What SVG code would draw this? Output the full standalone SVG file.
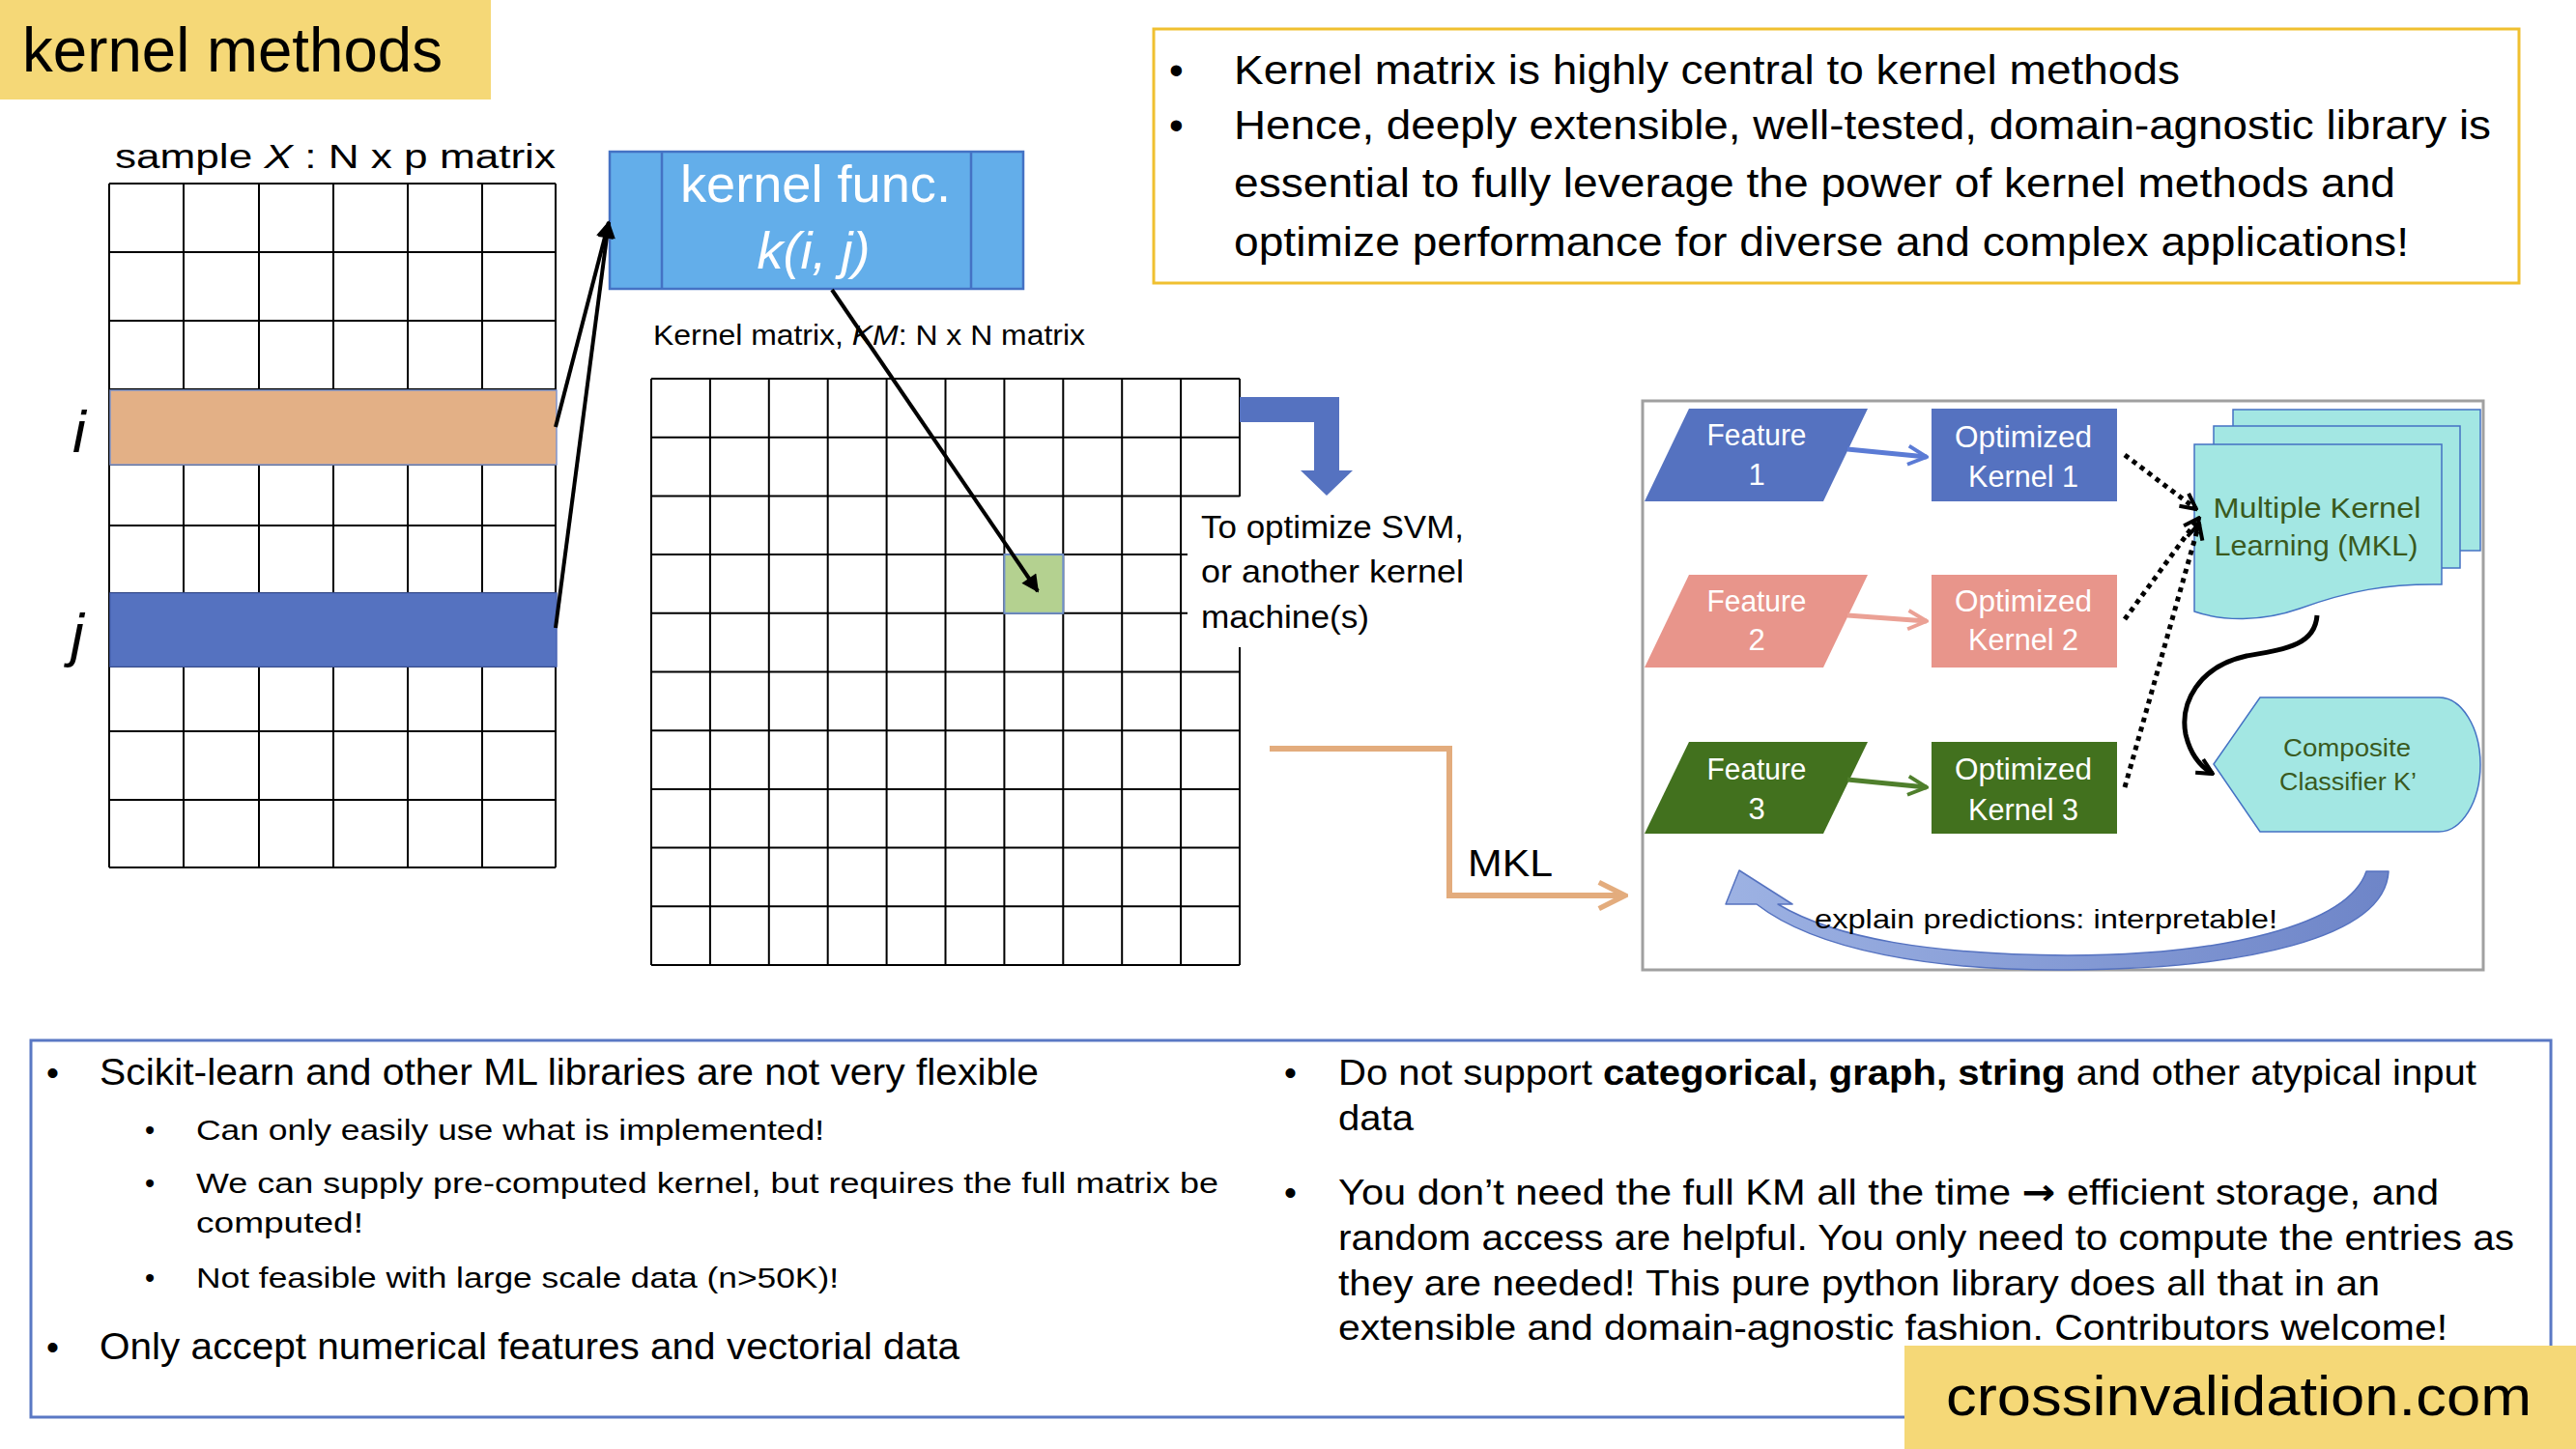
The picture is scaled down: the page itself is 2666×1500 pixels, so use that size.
<svg xmlns="http://www.w3.org/2000/svg" width="2666" height="1500" viewBox="0 0 2666 1500">
<defs>
<style>
text{font-family:"Liberation Sans",Arial,sans-serif;fill:#000}
.grid{stroke:#000;stroke-width:2;fill:none}
.w{fill:#fff}
.ctr{text-anchor:middle}
.cy{fill:#3A5A1E}
.it{font-style:italic}
</style>
<marker id="tri" viewBox="0 0 10 10" refX="9" refY="5" markerUnits="userSpaceOnUse" markerWidth="24" markerHeight="18" orient="auto"><path d="M0,0 L10,5 L0,10 Z" fill="#000"/></marker>
<marker id="chBlack" viewBox="0 0 10 10" refX="9" refY="5" markerUnits="userSpaceOnUse" markerWidth="20" markerHeight="22" orient="auto"><path d="M1,1 L9,5 L1,9" fill="none" stroke="#000" stroke-width="2"/></marker>
<marker id="chBlue" viewBox="0 0 10 10" refX="9" refY="5" markerUnits="userSpaceOnUse" markerWidth="24" markerHeight="26" orient="auto"><path d="M1,1 L9,5 L1,9" fill="none" stroke="#5B7BD5" stroke-width="1.6"/></marker>
<marker id="chRed" viewBox="0 0 10 10" refX="9" refY="5" markerUnits="userSpaceOnUse" markerWidth="24" markerHeight="26" orient="auto"><path d="M1,1 L9,5 L1,9" fill="none" stroke="#EBA195" stroke-width="1.6"/></marker>
<marker id="chGreen" viewBox="0 0 10 10" refX="9" refY="5" markerUnits="userSpaceOnUse" markerWidth="24" markerHeight="26" orient="auto"><path d="M1,1 L9,5 L1,9" fill="none" stroke="#4F7F2C" stroke-width="1.6"/></marker>
<marker id="chOrange" viewBox="0 0 10 10" refX="9" refY="5" markerUnits="userSpaceOnUse" markerWidth="34" markerHeight="38" orient="auto"><path d="M1,1 L9,5 L1,9" fill="none" stroke="#E3AC7D" stroke-width="1.6"/></marker>
<linearGradient id="arcGrad" x1="0" y1="0" x2="1" y2="0">
<stop offset="0" stop-color="#9DB2E3"/><stop offset="1" stop-color="#6E85C8"/>
</linearGradient>
</defs>
<rect x="0" y="0" width="2666" height="1500" fill="#fff"/>

<g id="title">
<rect x="0" y="0" width="508" height="103" fill="#F5D877"/>
<text x="23" y="74" font-size="64" textLength="435" lengthAdjust="spacingAndGlyphs">kernel methods</text>
</g>

<g id="matrix-x">
<text x="119" y="174" font-size="35" textLength="456" lengthAdjust="spacingAndGlyphs">sample <tspan class="it">X</tspan> : N x p matrix</text>
<path class="grid" d="M113,190V898M190,190V898M268,190V898M345,190V898M422,190V898M499,190V898M575,190V898M113,190H575M113,261H575M113,332H575M113,403H575M113,481H575M113,544H575M113,614H575M113,690H575M113,757H575M113,828H575M113,898H575"/>
<rect x="114" y="404" width="462" height="77" fill="#E3B086" stroke="#8095CC" stroke-width="1.5"/>
<rect x="114" y="614" width="462" height="76" fill="#5572C0" stroke="#4A66B5" stroke-width="1.5"/>
<text x="82" y="468" font-size="62" class="it ctr">i</text>
<text x="80" y="678" font-size="62" class="it ctr">j</text>
</g>

<g id="kernel-func">
<rect x="631" y="157" width="428" height="142" fill="#63AEEA" stroke="#4472C4" stroke-width="2.5"/>
<path d="M685,157V299M1005,157V299" stroke="#4472C4" stroke-width="2.5"/>
<text x="844" y="209" font-size="54" class="w ctr" textLength="280" lengthAdjust="spacingAndGlyphs">kernel func.</text>
<text x="842" y="278" font-size="54" class="w ctr it">k(i, j)</text>
</g>

<g id="kernel-matrix">
<text x="676" y="357" font-size="29" textLength="447" lengthAdjust="spacingAndGlyphs">Kernel matrix, <tspan class="it">KM</tspan>: N x N matrix</text>
<path class="grid" d="M674,392V999M734.9,392V999M795.8,392V999M856.7,392V999M917.6,392V999M978.5,392V999M1039.4,392V999M1100.3,392V999M1161.2,392V999M1222.1,392V999M1283,392V514M1283,670V999M674,392H1283M674,452.7H1283M674,513.4H1283M674,574.1H1229M674,634.8H1229M674,695.5H1283M674,756.2H1283M674,816.9H1283M674,877.6H1283M674,938.3H1283M674,999H1283"/>
<rect x="1039.4" y="574.1" width="60.9" height="60.7" fill="#B4D190" stroke="#6F8FC8" stroke-width="2"/>
</g>

<g id="svm-note">
<path d="M1283,411H1386V487H1400L1373,513L1346,487H1360V437H1283Z" fill="#5572C0"/>
<text x="1243" y="557" font-size="33" textLength="272" lengthAdjust="spacingAndGlyphs">To optimize SVM,</text>
<text x="1243" y="603" font-size="33" textLength="272" lengthAdjust="spacingAndGlyphs">or another kernel</text>
<text x="1243" y="650" font-size="33" textLength="174" lengthAdjust="spacingAndGlyphs">machine(s)</text>
</g>

<g id="mkl-label">
<text x="1519" y="907" font-size="39" textLength="88" lengthAdjust="spacingAndGlyphs">MKL</text>
</g>

<g id="note-top">
<rect x="1194" y="30" width="1413" height="263" fill="none" stroke="#F0C030" stroke-width="3"/>
<text x="1210" y="87" font-size="42">•</text>
<text x="1277" y="87" font-size="43" textLength="979" lengthAdjust="spacingAndGlyphs">Kernel matrix is highly central to kernel methods</text>
<text x="1210" y="144" font-size="42">•</text>
<text x="1277" y="144" font-size="43" textLength="1301" lengthAdjust="spacingAndGlyphs">Hence, deeply extensible, well-tested, domain-agnostic library is</text>
<text x="1277" y="204" font-size="43" textLength="1202" lengthAdjust="spacingAndGlyphs">essential to fully leverage the power of kernel methods and</text>
<text x="1277" y="265" font-size="43" textLength="1216" lengthAdjust="spacingAndGlyphs">optimize performance for diverse and complex applications!</text>
</g>

<g id="mkl-panel">
<rect x="1700" y="415" width="870" height="589" fill="#fff" stroke="#A0A0A0" stroke-width="3"/>
</g>

<g id="feature-1">
<path d="M1748,423H1933L1887,519H1702Z" fill="#5572C0"/>
<text x="1818" y="461" font-size="31" class="w ctr" textLength="103" lengthAdjust="spacingAndGlyphs">Feature</text>
<text x="1818" y="502" font-size="31" class="w ctr">1</text>
</g>
<g id="kernel-1">
<rect x="1999" y="423" width="192" height="96" fill="#5572C0"/>
<text x="2094" y="463" font-size="31" class="w ctr" textLength="142" lengthAdjust="spacingAndGlyphs">Optimized</text>
<text x="2094" y="504" font-size="31" class="w ctr" textLength="114" lengthAdjust="spacingAndGlyphs">Kernel 1</text>
</g>
<g id="feature-2">
<path d="M1748,595H1933L1887,691H1702Z" fill="#E8958B"/>
<text x="1818" y="633" font-size="31" class="w ctr" textLength="103" lengthAdjust="spacingAndGlyphs">Feature</text>
<text x="1818" y="673" font-size="31" class="w ctr">2</text>
</g>
<g id="kernel-2">
<rect x="1999" y="595" width="192" height="96" fill="#E8958B"/>
<text x="2094" y="633" font-size="31" class="w ctr" textLength="142" lengthAdjust="spacingAndGlyphs">Optimized</text>
<text x="2094" y="673" font-size="31" class="w ctr" textLength="114" lengthAdjust="spacingAndGlyphs">Kernel 2</text>
</g>
<g id="feature-3">
<path d="M1748,768H1933L1887,863H1702Z" fill="#42711E"/>
<text x="1818" y="807" font-size="31" class="w ctr" textLength="103" lengthAdjust="spacingAndGlyphs">Feature</text>
<text x="1818" y="848" font-size="31" class="w ctr">3</text>
</g>
<g id="kernel-3">
<rect x="1999" y="768" width="192" height="95" fill="#42711E"/>
<text x="2094" y="807" font-size="31" class="w ctr" textLength="142" lengthAdjust="spacingAndGlyphs">Optimized</text>
<text x="2094" y="849" font-size="31" class="w ctr" textLength="114" lengthAdjust="spacingAndGlyphs">Kernel 3</text>
</g>

<g id="mkl-node">
<rect x="2311" y="424" width="256" height="146" fill="#A3E7E3" stroke="#4472C4" stroke-width="1.5"/>
<rect x="2291" y="441" width="255" height="147" fill="#A3E7E3" stroke="#4472C4" stroke-width="1.5"/>
<path d="M2271,460H2527V605C2470,604 2430,612 2380,630C2340,644 2300,643 2271,633Z" fill="#A3E7E3" stroke="#4472C4" stroke-width="1.5"/>
<text x="2398" y="536" font-size="30" class="cy ctr" textLength="215" lengthAdjust="spacingAndGlyphs">Multiple Kernel</text>
<text x="2397" y="575" font-size="30" class="cy ctr" textLength="211" lengthAdjust="spacingAndGlyphs">Learning (MKL)</text>
</g>

<g id="composite-node">
<path d="M2291,791L2339,722H2524A43,69.5 0 0 1 2524,861H2339Z" fill="#A3E7E3" stroke="#4472C4" stroke-width="1.5"/>
<text x="2429" y="783" font-size="26" class="cy ctr" textLength="132" lengthAdjust="spacingAndGlyphs">Composite</text>
<text x="2430" y="818" font-size="26" class="cy ctr" textLength="142" lengthAdjust="spacingAndGlyphs">Classifier K’</text>
</g>

<g id="connectors">
<line x1="575" y1="442" x2="630" y2="230" stroke="#000" stroke-width="4" marker-end="url(#tri)"/>
<line x1="575" y1="650" x2="630" y2="230" stroke="#000" stroke-width="4" marker-end="url(#tri)"/>
<line x1="861" y1="300" x2="1074" y2="612" stroke="#000" stroke-width="4" marker-end="url(#tri)"/>
<polyline points="1314,775 1500,775 1500,927 1682,927" fill="none" stroke="#E3AC7D" stroke-width="6" marker-end="url(#chOrange)"/>
<line x1="1912" y1="465" x2="1994" y2="473" stroke="#5B7BD5" stroke-width="5" marker-end="url(#chBlue)"/>
<line x1="1912" y1="637" x2="1994" y2="643" stroke="#EBA195" stroke-width="5" marker-end="url(#chRed)"/>
<line x1="1912" y1="807" x2="1994" y2="815" stroke="#4F7F2C" stroke-width="5" marker-end="url(#chGreen)"/>
<line x1="2199" y1="471" x2="2273" y2="527" stroke="#000" stroke-width="5" stroke-dasharray="5 5" marker-end="url(#chBlack)"/>
<line x1="2199" y1="641" x2="2276" y2="536" stroke="#000" stroke-width="5" stroke-dasharray="5 5" marker-end="url(#chBlack)"/>
<line x1="2199" y1="815" x2="2276" y2="542" stroke="#000" stroke-width="5" stroke-dasharray="5 5" marker-end="url(#chBlack)"/>
<path d="M2398,637C2396,668 2365,672 2325,679C2275,690 2256,728 2262,760C2267,782 2278,794 2290,801" fill="none" stroke="#000" stroke-width="5" marker-end="url(#chBlack)"/>
<path d="M1786,936L1800,901L1855,936H1840C1900,972 2000,988 2140,989C2300,989 2430,958 2449,902H2472C2468,972 2320,1003 2140,1004C2000,1005 1880,984 1818,936Z" fill="url(#arcGrad)" stroke="#5572C0" stroke-width="1.5" stroke-linejoin="round"/>
</g>

<g id="explain-label">
<text x="1878" y="961" font-size="28" textLength="479" lengthAdjust="spacingAndGlyphs">explain predictions: interpretable!</text>
</g>

<g id="notes-bottom">
<rect x="32" y="1077" width="2608" height="390" fill="none" stroke="#5A78C4" stroke-width="3"/>
<text x="48" y="1123" font-size="37">•</text>
<text x="103" y="1123" font-size="38" textLength="972" lengthAdjust="spacingAndGlyphs">Scikit-learn and other ML libraries are not very flexible</text>
<text x="150" y="1180" font-size="29">•</text>
<text x="203" y="1180" font-size="30" textLength="650" lengthAdjust="spacingAndGlyphs">Can only easily use what is implemented!</text>
<text x="150" y="1235" font-size="29">•</text>
<text x="203" y="1235" font-size="30" textLength="1058" lengthAdjust="spacingAndGlyphs">We can supply pre-computed kernel, but requires the full matrix be</text>
<text x="203" y="1276" font-size="30" textLength="173" lengthAdjust="spacingAndGlyphs">computed!</text>
<text x="150" y="1333" font-size="29">•</text>
<text x="203" y="1333" font-size="30" textLength="665" lengthAdjust="spacingAndGlyphs">Not feasible with large scale data (n&gt;50K)!</text>
<text x="48" y="1407" font-size="37">•</text>
<text x="103" y="1407" font-size="38" textLength="890" lengthAdjust="spacingAndGlyphs">Only accept numerical features and vectorial data</text>

<text x="1329" y="1123" font-size="37">•</text>
<text x="1385" y="1123" font-size="37" textLength="1178" lengthAdjust="spacingAndGlyphs">Do not support <tspan font-weight="bold">categorical, graph, string</tspan> and other atypical input</text>
<text x="1385" y="1170" font-size="37" textLength="78" lengthAdjust="spacingAndGlyphs">data</text>
<text x="1329" y="1247" font-size="37">•</text>
<text x="1385" y="1247" font-size="37" textLength="1139" lengthAdjust="spacingAndGlyphs">You don’t need the full KM all the time <tspan font-family="'DejaVu Sans',sans-serif" font-weight="bold">→</tspan> efficient storage, and</text>
<text x="1385" y="1294" font-size="37" textLength="1217" lengthAdjust="spacingAndGlyphs">random access are helpful. You only need to compute the entries as</text>
<text x="1385" y="1341" font-size="37" textLength="1078" lengthAdjust="spacingAndGlyphs">they are needed! This pure python library does all that in an</text>
<text x="1385" y="1387" font-size="37" textLength="1148" lengthAdjust="spacingAndGlyphs">extensible and domain-agnostic fashion. Contributors welcome!</text>
</g>

<g id="footer">
<rect x="1971" y="1393" width="695" height="107" fill="#F5D877"/>
<text x="2014" y="1465" font-size="58" textLength="606" lengthAdjust="spacingAndGlyphs">crossinvalidation.com</text>
</g>
</svg>
